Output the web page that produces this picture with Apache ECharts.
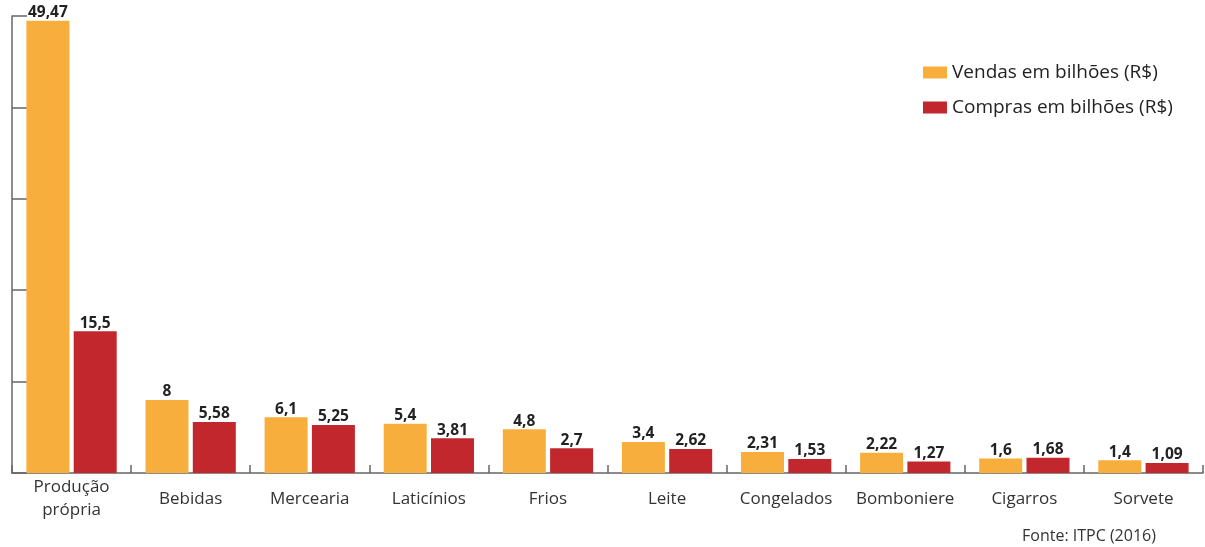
<!DOCTYPE html>
<html>
<head>
<meta charset="utf-8">
<script src="https://cdn.jsdelivr.net/npm/echarts@6/dist/echarts.min.js"></script>
<style>
html,body{margin:0;padding:0;background:#fff;}
#chart{width:1205px;height:547px;}
</style>
</head>
<body>
<div id="chart"></div>
<script>
const categories = ['Produção\nprópria','Bebidas','Mercearia','Laticínios','Frios','Leite','Congelados','Bomboniere','Cigarros','Sorvete'];
const vendas = [49.47, 8, 6.1, 5.4, 4.8, 3.4, 2.31, 2.22, 1.6, 1.4];
const compras = [15.5, 5.58, 5.25, 3.81, 2.7, 2.62, 1.53, 1.27, 1.68, 1.09];
const seriesNames = ['Vendas em bilhões (R$)', 'Compras em bilhões (R$)'];
const sourceText = 'Fonte: ITPC (2016)';

const FONT = '"Open Sans", "Noto Sans", sans-serif';
const fmt = p => String(p.value).replace('.', ',');
const chart = echarts.init(document.getElementById('chart'));
const labelStyle = {
  show: true, position: 'top', distance: 0, formatter: fmt,
  fontFamily: FONT, fontWeight: 'bold', fontSize: 15.5, color: '#222'
};
chart.setOption({
  animation: false,
  backgroundColor: '#fff',
  grid: { left: 12, right: 2, top: 16, bottom: 74, containLabel: false },
  legend: {
    data: seriesNames,
    orient: 'vertical',
    left: 918, top: 58,
    itemWidth: 24, itemHeight: 12, itemGap: 16,
    icon: 'rect',
    textStyle: { fontFamily: FONT, fontSize: 19, color: '#222' }
  },
  xAxis: {
    type: 'category',
    data: categories,
    axisLine: { lineStyle: { color: '#666', width: 1.5 } },
    axisTick: { show: true, inside: true, length: 8, lineStyle: { color: '#666', width: 1.5 } },
    axisLabel: {
      fontFamily: FONT, fontSize: 17, color: '#333', margin: 26,
      verticalAlign: 'middle', lineHeight: 23, interval: 0
    }
  },
  yAxis: {
    type: 'value', min: 0, max: 50, interval: 10,
    axisLine: { show: true, lineStyle: { color: '#666', width: 1.5 } },
    axisTick: { show: true, inside: true, length: 15, lineStyle: { color: '#666', width: 1.5 } },
    axisLabel: { show: false },
    splitLine: { show: false }
  },
  series: [
    { name: seriesNames[0], type: 'bar', data: vendas, barWidth: 43, barGap: '10%',
      itemStyle: { color: '#F8AE3D' }, label: labelStyle },
    { name: seriesNames[1], type: 'bar', data: compras, barWidth: 43,
      itemStyle: { color: '#C1272D' }, label: labelStyle }
  ],
  graphic: [{
    type: 'text', left: 1022, top: 528,
    style: { text: sourceText, fontFamily: FONT, fontSize: 16, fill: '#333' }
  }]
});
</script>
</body>
</html>
